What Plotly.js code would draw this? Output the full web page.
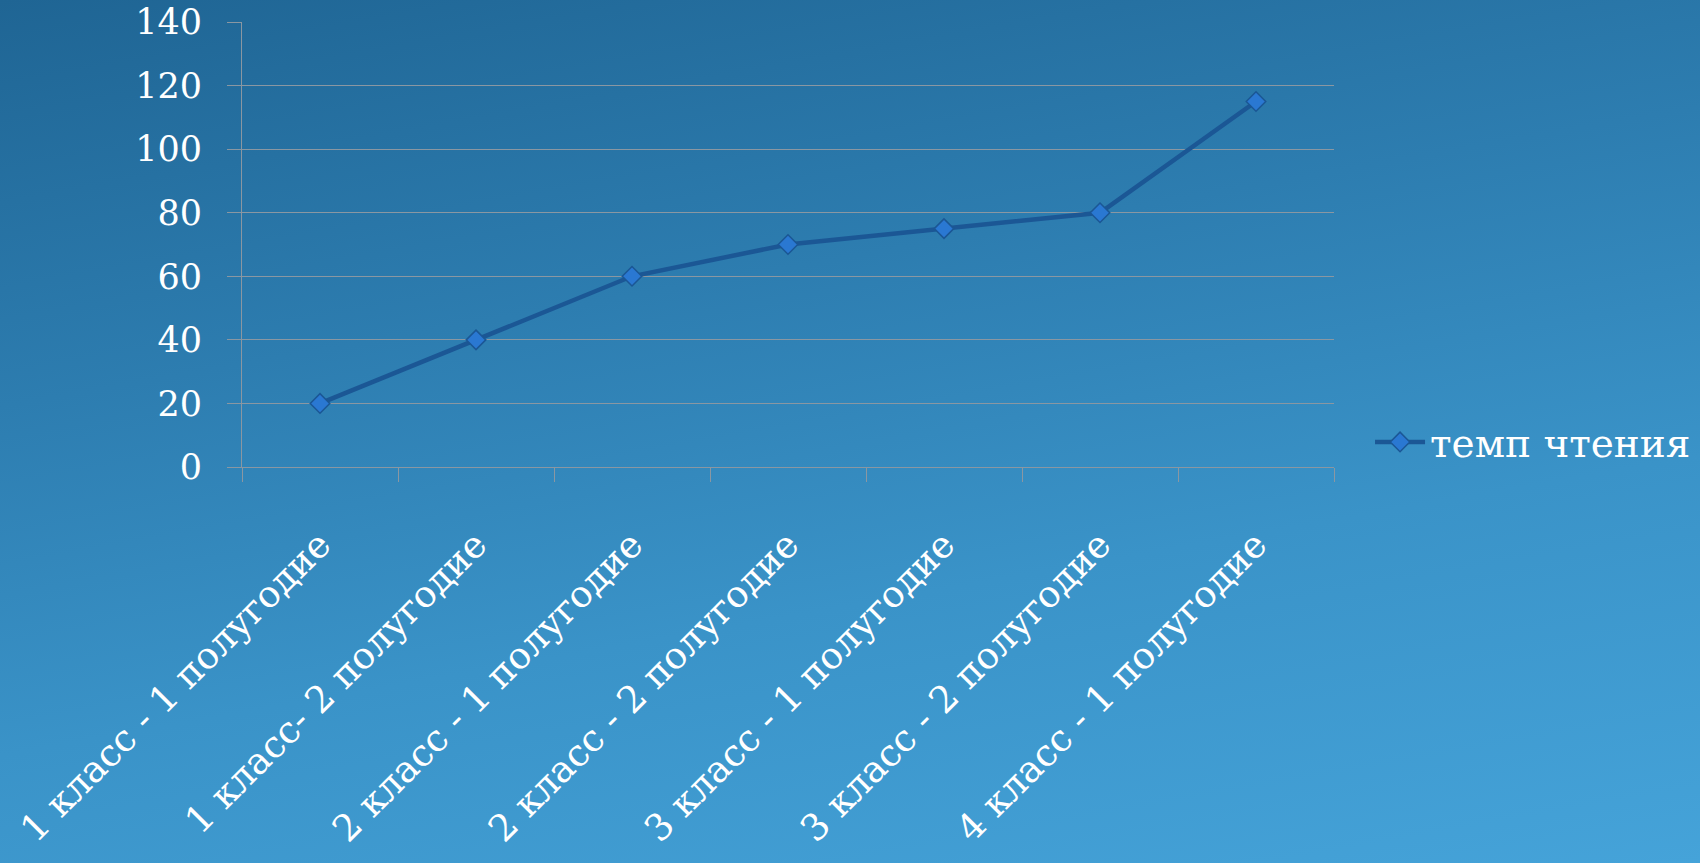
<!DOCTYPE html>
<html>
<head>
<meta charset="utf-8">
<script src="https://cdn.plot.ly/plotly-3.0.1.min.js"></script>
<style>
html,body{margin:0;padding:0;width:1700px;height:863px;overflow:hidden;}
body{background:linear-gradient(170deg,#1f6594 0%,#2d7db0 35%,#3a93c8 65%,#45a3d9 100%);}
#chart{width:1700px;height:863px;}
</style>
</head>
<body>
<div id="chart"></div>
<script>
const categories = ["1 класс - 1 полугодие","1 класс- 2 полугодие","2 класс - 1 полугодие","2 класс - 2 полугодие","3 класс - 1 полугодие","3 класс - 2 полугодие","4 класс - 1 полугодие"];
const readingPace = [20, 40, 60, 70, 75, 80, 115];
const seriesName = "темп чтения";
const yTicks = [0, 20, 40, 60, 80, 100, 120, 140];

const fontFam = "DejaVu Serif, Liberation Serif, serif";
const trace = {
  x: categories,
  y: readingPace,
  name: seriesName,
  type: "scatter",
  mode: "lines+markers",
  line: {color: "#1b5795", width: 4.5},
  marker: {symbol: "diamond", size: 15, color: "#2a78d2", line: {color: "#1b5795", width: 1.5}},
  showlegend: true
};
const layout = {
  width: 1700, height: 863,
  paper_bgcolor: "rgba(0,0,0,0)",
  plot_bgcolor: "rgba(0,0,0,0)",
  margin: {l: 242, r: 366, t: 22, b: 396, autoexpand: false},
  font: {family: fontFam, color: "#ffffff", size: 36},
  showlegend: true,
  legend: {x: 1.033, xanchor: "left", y: 0.056, yanchor: "middle", itemwidth: 50,
           font: {size: 39, color: "#ffffff"}, bgcolor: "rgba(0,0,0,0)"},
  xaxis: {
    type: "category",
    range: [-0.5, 6.5],
    tickson: "boundaries",
    ticks: "outside", ticklen: 14, tickcolor: "#8a97a2", tickwidth: 1,
    showline: true, linecolor: "#8a97a2", linewidth: 1,
    showgrid: false, zeroline: false,
    tickangle: -45,
    ticklabelstandoff: 40,
    tickfont: {family: fontFam, size: 37, color: "#ffffff"}
  },
  yaxis: {
    range: [0, 140],
    tickvals: yTicks,
    ticktext: yTicks.map(String),
    ticks: "outside", ticklen: 14, tickcolor: "#8a97a2", tickwidth: 1,
    showline: true, linecolor: "#8a97a2", linewidth: 1,
    showgrid: true, gridcolor: "#8a97a2", gridwidth: 1,
    zeroline: false,
    ticklabelstandoff: 18,
    tickfont: {family: fontFam, size: 35, color: "#ffffff"}
  }
};
Plotly.newPlot("chart", [trace], layout, {displayModeBar: false, staticPlot: true});
</script>
</body>
</html>
